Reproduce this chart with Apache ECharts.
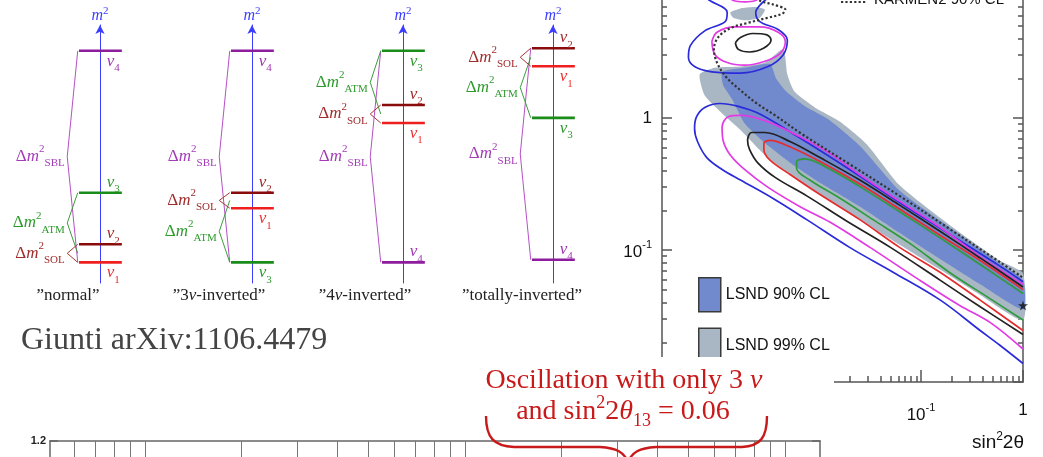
<!DOCTYPE html>
<html>
<head>
<meta charset="utf-8">
<title>Sterile neutrino schemes and LSND</title>
<script src="https://cdn.jsdelivr.net/npm/echarts@6.0.0/dist/echarts.min.js"></script>
<style>
  html, body { margin: 0; padding: 0; background: #fff; }
  #main { width: 1043px; height: 457px; }
</style>
</head>
<body>
<div id="main"></div>
<script>
// ---- 3+1 mass schemes, m^2 in arbitrary units (order: nu1, nu2, nu3, nu4)
const schemeNames = ['”normal”', '”3ν-inverted”', '”4ν-inverted”', '”totally-inverted”'];
const normalLevels = [8, 15, 35, 90];
const inverted3Levels = [29, 35, 8, 90];
const inverted4Levels = [62, 69, 90, 8];
const totallyInvertedLevels = [84, 91, 64, 9];
const bracketNames = ['SBL', 'ATM', 'SOL'];

// ---- LSND / KARMEN plot, points as [log10 sin^2(2theta), log10 dm^2]
const lsnd99 = [[-3.17,0.33],[-3.02,0.38],[-2.77,0.39],[-2.53,0.42],[-2.35,0.52],[-2.31,0.33],[-2.24,0.20],[-2.04,0.08],[-1.79,-0.03],[-1.53,-0.20],[-1.21,-0.51],[-0.72,-0.81],[-0.23,-1.08],[0,-1.18],[0,-1.53],[-0.42,-1.34],[-0.81,-1.15],[-1.21,-0.96],[-1.60,-0.77],[-1.99,-0.58],[-2.28,-0.43],[-2.53,-0.28],[-2.77,-0.09],[-2.97,0.05],[-3.12,0.17]];
const lsnd99Top = [[-2.87,0.80],[-2.77,0.83],[-2.63,0.84],[-2.53,0.82],[-2.58,0.76],[-2.73,0.74],[-2.84,0.76]];
const lsnd90 = [[-2.95,0.35],[-2.73,0.38],[-2.48,0.41],[-2.42,0.30],[-2.32,0.20],[-2.14,0.09],[-1.89,-0.02],[-1.60,-0.21],[-1.21,-0.55],[-0.72,-0.83],[-0.23,-1.10],[0,-1.23],[0,-1.45],[-0.42,-1.26],[-0.81,-1.07],[-1.21,-0.87],[-1.60,-0.67],[-1.99,-0.49],[-2.28,-0.34],[-2.53,-0.19],[-2.73,-0.04],[-2.85,0.14],[-2.94,0.25]];
const blueTop = [[-3.15,0.93],[-3.07,0.89],[-2.90,0.80],[-2.92,0.73],[-3.12,0.66],[-3.26,0.55],[-3.28,0.46],[-3.22,0.39],[-3.05,0.35],[-2.77,0.34],[-2.50,0.39],[-2.35,0.48],[-2.31,0.59],[-2.40,0.67],[-2.58,0.73],[-2.62,0.80],[-2.56,0.87],[-2.48,0.92]];
const blueLower = [[0,-1.24],[-0.23,-1.12],[-0.72,-0.88],[-1.21,-0.64],[-1.70,-0.39],[-2.19,-0.15],[-2.58,0.03],[-2.80,0.09],[-2.97,0.11],[-3.12,0.08],[-3.20,0.01],[-3.22,-0.08],[-3.19,-0.18],[-3.10,-0.30],[-2.95,-0.39],[-2.77,-0.47],[-2.45,-0.61],[-2.12,-0.77],[-1.70,-0.98],[-1.27,-1.17],[-0.81,-1.38],[-0.42,-1.61],[-0.23,-1.72],[0,-1.86]];
const magentaTop = [[-2.89,0.93],[-2.84,0.89],[-2.73,0.88],[-2.62,0.89],[-2.58,0.93]];
const magentaRing = [[-3.05,0.58],[-3.00,0.65],[-2.82,0.69],[-2.58,0.69],[-2.40,0.65],[-2.33,0.58],[-2.38,0.49],[-2.53,0.43],[-2.73,0.40],[-2.90,0.42],[-3.02,0.48],[-3.05,0.58]];
const magentaLower = [[0,-1.26],[-0.42,-1.05],[-0.81,-0.83],[-1.21,-0.63],[-1.60,-0.43],[-1.89,-0.27],[-2.19,-0.14],[-2.53,-0.02],[-2.77,0.02],[-2.89,0.01],[-2.95,-0.07],[-2.94,-0.17],[-2.87,-0.28],[-2.73,-0.39],[-2.51,-0.52],[-2.19,-0.67],[-1.89,-0.79],[-1.50,-0.98],[-1.01,-1.23],[-0.62,-1.42],[-0.32,-1.55],[0,-1.75]];
const blackRing = [[-2.82,0.57],[-2.77,0.61],[-2.65,0.64],[-2.51,0.63],[-2.47,0.59],[-2.54,0.53],[-2.68,0.50],[-2.79,0.52],[-2.82,0.57]];
const blackLoop = [[0,-1.28],[-0.42,-1.06],[-0.81,-0.86],[-1.21,-0.66],[-1.60,-0.47],[-1.99,-0.30],[-2.28,-0.18],[-2.53,-0.11],[-2.66,-0.11],[-2.70,-0.17],[-2.68,-0.24],[-2.60,-0.34],[-2.43,-0.45],[-2.12,-0.59],[-1.73,-0.78],[-1.30,-0.98],[-0.81,-1.23],[-0.42,-1.43],[0,-1.64]];
const redLoop = [[0,-1.30],[-0.42,-1.08],[-0.81,-0.89],[-1.21,-0.69],[-1.60,-0.50],[-1.99,-0.33],[-2.28,-0.22],[-2.48,-0.17],[-2.54,-0.19],[-2.54,-0.24],[-2.48,-0.32],[-2.28,-0.43],[-1.99,-0.58],[-1.60,-0.77],[-1.21,-0.98],[-0.81,-1.17],[-0.42,-1.38],[0,-1.61]];
const greenLoop = [[0,-1.33],[-0.42,-1.11],[-0.81,-0.91],[-1.21,-0.71],[-1.60,-0.52],[-1.89,-0.39],[-2.14,-0.31],[-2.22,-0.33],[-2.22,-0.38],[-2.09,-0.47],[-1.79,-0.61],[-1.47,-0.77],[-1.11,-0.95],[-0.72,-1.17],[-0.32,-1.37],[0,-1.53]];
const karmen = [[-2.63,0.95],[-2.58,0.89],[-2.45,0.86],[-2.33,0.82],[-2.36,0.79],[-2.50,0.76],[-2.70,0.72],[-2.87,0.68],[-2.99,0.61],[-3.03,0.52],[-3.00,0.42],[-2.91,0.31],[-2.77,0.21],[-2.61,0.11],[-2.43,0.02],[-2.19,-0.11],[-1.70,-0.35],[-1.21,-0.59],[-0.72,-0.84],[-0.23,-1.09],[0,-1.21]];
const bestFit = [1, 0.038];

// ---- tick values
const minorSteps = [2, 3, 4, 5, 6, 7, 8, 9];
const lsndXDecades = [1e-4, 1e-3, 1e-2, 1e-1, 1];
const lsndYDecades = [0.01, 0.1, 1, 10, 100];
const bottomXDecades = [1, 10, 100, 1000];

const serif = '"Liberation Serif", "DejaVu Serif", serif';
const sans = '"Liberation Sans", Arial, sans-serif';

const nuColors = ['#f01f1f', '#8a0b0b', '#1a8c1a', '#8e1d9e'];
const nuTextColors = ['#ee3030', '#a32a2a', '#2f9a2f', '#a234b4'];
const bracketColors = ['#b550c6', '#3c9e3c', '#a53636'];
const bracketTextColors = ['#a43cb8', '#2e9a2e', '#a02c2c'];
const labelSides = [
    ['below', 'above', 'above', 'below'],
    ['below', 'above', 'below', 'below'],
    ['below', 'above', 'below', 'above'],
    ['below', 'above', 'below', 'above']
];
const diagramCenters = [100, 252, 403, 553];
const diagramTitleX = [68, 219, 365, 522];

function mathRich(color, size) {
    const small = Math.round(size * 0.66);
    const base = { fill: color, color: color, fontFamily: serif };
    return {
        r: Object.assign({}, base, { fontSize: size, lineHeight: size + 8, verticalAlign: 'middle' }),
        i: Object.assign({}, base, { fontSize: size, fontStyle: 'italic', lineHeight: size + 8, verticalAlign: 'middle' }),
        p: Object.assign({}, base, { fontSize: small, lineHeight: small + 2, verticalAlign: 'top' }),
        b: Object.assign({}, base, { fontSize: small, lineHeight: small + 2, verticalAlign: 'bottom' })
    };
}

function ticksFrom(decades, min, max) {
    const out = [];
    decades.forEach((d) => {
        minorSteps.forEach((s) => {
            const v = d * s;
            if (v > min * 1.05 && v < max * 0.97) out.push(v);
        });
    });
    return out;
}

function levelSeries(idx, levels, sides) {
    return {
        type: 'custom', xAxisIndex: idx, yAxisIndex: idx, silent: true, z: 3,
        data: levels.map((v, k) => [0, v, k]),
        renderItem: function (params, api) {
            const y = api.value(1);
            const k = api.value(2);
            const a = api.coord([-0.5, y]);
            const b = api.coord([0.52, y]);
            const t = api.coord([0.16, y]);
            const below = sides[k] === 'below';
            return {
                type: 'group',
                children: [
                    { type: 'line', shape: { x1: a[0], y1: a[1], x2: b[0], y2: b[1] }, style: { stroke: nuColors[k], lineWidth: 2.6 } },
                    {
                        type: 'text', x: t[0], y: below ? t[1] - 2 : t[1] + 2,
                        style: {
                            text: '{i|ν}{b|' + (k + 1) + '}', rich: mathRich(nuTextColors[k], 17),
                            align: 'left', verticalAlign: below ? 'top' : 'bottom'
                        }
                    }
                ]
            };
        }
    };
}

function bracketSeries(idx, levels) {
    const top = Math.max(...levels);
    const bottom = Math.min(...levels);
    const solMid = (levels[0] + levels[1]) / 2;
    return {
        type: 'custom', xAxisIndex: idx, yAxisIndex: idx, silent: true, z: 2,
        data: [[top, bottom, 0], [levels[2], solMid, 1], [levels[0], levels[1], 2]],
        renderItem: function (params, api) {
            const y1 = api.value(0);
            const y2 = api.value(1);
            const kind = api.value(2);
            const mid = (y1 + y2) / 2;
            const a = api.coord([-0.53, y1]);
            const b = api.coord([-0.78, mid]);
            const c = api.coord([-0.53, y2]);
            const t = api.coord([-0.84, mid]);
            return {
                type: 'group',
                children: [
                    { type: 'polyline', shape: { points: [a, b, c] }, style: { stroke: bracketColors[kind], lineWidth: 1, fill: 'none' } },
                    {
                        type: 'text', x: t[0], y: t[1],
                        style: {
                            text: '{r|Δ}{i|m}{p|2}{b|' + bracketNames[kind] + '}',
                            rich: mathRich(bracketTextColors[kind], 17), align: 'right', verticalAlign: 'middle'
                        }
                    }
                ]
            };
        }
    };
}

const toData = (arr) => arr.map((p) => [Math.pow(10, p[0]), Math.pow(10, p[1])]);

function regionSeries(name, pts, fill) {
    const data = toData(pts);
    return {
        type: 'custom', name: name, xAxisIndex: 4, yAxisIndex: 4, silent: true, z: 2,
        itemStyle: { color: fill }, data: data,
        renderItem: function (params, api) {
            if (params.dataIndexInside !== 0) return;
            return {
                type: 'polygon',
                shape: { points: data.map((d) => api.coord(d)), smooth: 0.2 },
                style: { fill: fill, stroke: 'none' }
            };
        }
    };
}

function contourSeries(pts, color) {
    return {
        type: 'line', xAxisIndex: 4, yAxisIndex: 4, data: toData(pts), symbol: 'none',
        smooth: 0.35, silent: true, z: 3, lineStyle: { color: color, width: 1.7 }
    };
}

const schemeLevels = [normalLevels, inverted3Levels, inverted4Levels, totallyInvertedLevels];

const lsndXMin = 0.000289;
const bottomXMin = 5.05;
const bottomXMax = 1286;

const frame = { color: '#555', width: 1.5 };
const decadeLabel = function (v) {
    if (Math.abs(v - 1) < 1e-9) return '1';
    if (Math.abs(v - 10) < 1e-6) return '10';
    return '{b|10}{s|' + Math.round(Math.log10(v)) + '}';
};
const decadeRich = {
    b: { fontSize: 17, fontFamily: sans, color: '#111', lineHeight: 22, verticalAlign: 'bottom' },
    s: { fontSize: 11, fontFamily: sans, color: '#111', lineHeight: 12, verticalAlign: 'top' }
};

const noBounds = { outerBoundsMode: 'none', containLabel: false };
const grids = diagramCenters.map((c) => Object.assign({ left: c - 42, width: 84, top: 25, height: 258 }, noBounds));
grids.push(Object.assign({ left: 662, width: 361, top: -146, height: 528 }, noBounds));
grids.push(Object.assign({ left: 50, width: 770, top: 441, height: 300 }, noBounds));

const xAxes = diagramCenters.map((c, i) => ({ gridIndex: i, type: 'value', min: -1, max: 1, show: false }));
const yAxes = diagramCenters.map((c, i) => ({
    gridIndex: i, type: 'value', min: 0, max: 100,
    axisLine: { show: true, onZero: true, symbol: ['none', 'arrow'], symbolSize: [7, 9], lineStyle: { color: '#3d3dff', width: 1 } },
    axisTick: { show: false }, axisLabel: { show: false }, splitLine: { show: false },
    name: '{i|m}{p|2}', nameLocation: 'end', nameGap: 1,
    nameTextStyle: {
        rich: {
            i: { color: '#3d3dff', fontFamily: serif, fontStyle: 'italic', fontSize: 16, lineHeight: 18, verticalAlign: 'bottom' },
            p: { color: '#3d3dff', fontFamily: serif, fontSize: 11, lineHeight: 18, verticalAlign: 'top' }
        }
    }
}));

// LSND plot axes (major + minor ticks on each side)
xAxes.push({
    gridIndex: 4, type: 'log', min: lsndXMin, max: 1, position: 'bottom',
    axisLine: { show: true, onZero: false, lineStyle: frame },
    axisTick: { show: true, inside: true, length: 12, customValues: lsndXDecades.slice(1), lineStyle: frame },
    axisLabel: { show: true, customValues: [0.1, 1], formatter: decadeLabel, rich: decadeRich, margin: 20, color: '#111', fontFamily: sans, fontSize: 17 },
    splitLine: { show: false }
});
xAxes.push({
    gridIndex: 4, type: 'log', min: lsndXMin, max: 1, position: 'bottom',
    axisLine: { show: false },
    axisTick: { show: true, inside: true, length: 6, customValues: ticksFrom(lsndXDecades, lsndXMin, 1), lineStyle: frame },
    axisLabel: { show: false }, splitLine: { show: false }
});
['left', 'right'].forEach((side) => {
    yAxes.push({
        gridIndex: 4, type: 'log', min: 0.01, max: 100, position: side,
        axisLine: { show: true, onZero: false, lineStyle: frame },
        axisTick: { show: true, inside: true, length: 10, customValues: lsndYDecades, lineStyle: frame },
        axisLabel: side === 'left'
            ? { show: true, customValues: [0.1, 1, 10], formatter: decadeLabel, rich: decadeRich, margin: 10, color: '#111', fontFamily: sans, fontSize: 17 }
            : { show: false },
        splitLine: { show: false }
    });
    yAxes.push({
        gridIndex: 4, type: 'log', min: 0.01, max: 100, position: side,
        axisLine: { show: false },
        axisTick: { show: true, inside: true, length: 5, customValues: ticksFrom(lsndYDecades, 0.01, 100), lineStyle: frame },
        axisLabel: { show: false }, splitLine: { show: false }
    });
});

// lower chart (only its top edge is in view)
const bottomFrame = { color: '#666', width: 1.5 };
xAxes.push({
    gridIndex: 5, type: 'log', min: bottomXMin, max: bottomXMax, position: 'top', z: 10,
    axisLine: { show: true, onZero: false, lineStyle: bottomFrame },
    axisTick: { show: true, inside: true, length: 22, customValues: bottomXDecades.slice(1), lineStyle: { color: '#777', width: 1 } },
    axisLabel: { show: false }, splitLine: { show: false }
});
xAxes.push({
    gridIndex: 5, type: 'log', min: bottomXMin, max: bottomXMax, position: 'top', z: 10,
    axisLine: { show: false },
    axisTick: { show: true, inside: true, length: 18, customValues: ticksFrom(bottomXDecades, bottomXMin, bottomXMax), lineStyle: { color: '#777', width: 1 } },
    axisLabel: { show: false }, splitLine: { show: false }
});
yAxes.push({
    gridIndex: 5, type: 'value', min: 0.7, max: 1.2, interval: 0.1, position: 'left', z: 10,
    axisLine: { show: true, onZero: false, lineStyle: bottomFrame },
    axisTick: { show: true, inside: true, length: 8, lineStyle: bottomFrame },
    axisLabel: { show: true, margin: 4, fontSize: 11, fontWeight: 'bold', fontFamily: sans, color: '#222', formatter: (v) => v.toFixed(1) },
    splitLine: { show: false }
});
yAxes.push({
    gridIndex: 5, type: 'value', min: 0.7, max: 1.2, interval: 0.1, position: 'right', z: 10,
    axisLine: { show: true, onZero: false, lineStyle: bottomFrame },
    axisTick: { show: true, inside: true, length: 8, lineStyle: bottomFrame },
    axisLabel: { show: false }, splitLine: { show: false }
});

const series = [];
schemeLevels.forEach((lv, i) => {
    series.push(bracketSeries(i, lv));
    series.push(levelSeries(i, lv, labelSides[i]));
});
series.push(regionSeries('LSND 99% CL', lsnd99, '#a9b7c4'));
series.push(regionSeries('lsnd99top', lsnd99Top, '#a9b7c4'));
series.push(regionSeries('LSND 90% CL', lsnd90, '#7189cd'));
series.push(contourSeries(blueTop, '#2b2bd9'));
series.push(contourSeries(blueLower, '#2b2bd9'));
series.push(contourSeries(magentaTop, '#e33be3'));
series.push(contourSeries(magentaRing, '#e33be3'));
series.push(contourSeries(magentaLower, '#e33be3'));
series.push(contourSeries(blackRing, '#222'));
series.push(contourSeries(blackLoop, '#222'));
series.push(contourSeries(redLoop, '#e52d2d'));
series.push(contourSeries(greenLoop, '#2f9b3c'));
series.push({
    type: 'line', name: 'KARMEN2 90% CL', xAxisIndex: 4, yAxisIndex: 4, data: toData(karmen),
    symbol: 'none', smooth: 0.35, silent: true, z: 4,
    lineStyle: { color: '#333', width: 2.2, type: 'dotted' }, itemStyle: { color: '#333' }
});
series.push({
    type: 'scatter', xAxisIndex: 4, yAxisIndex: 4, data: [bestFit], clip: false, silent: true, z: 5,
    symbol: 'path://M50,0 L61,35 L98,35 L68,57 L79,91 L50,70 L21,91 L32,57 L2,35 L39,35 Z',
    symbolSize: 10, itemStyle: { color: '#111' }
});

const mathLabel = (s) => '{r|' + s.split('ν').join('}{i|ν}{r|') + '}';

const red = '#c81a1a';
const graphics = [
    { type: 'rect', z: 5, shape: { x: 0, y: 357, width: 834, height: 100 }, style: { fill: '#fff' } }
];
schemeNames.forEach((name, i) => {
    graphics.push({
        type: 'text', z: 20, x: diagramTitleX[i], y: 296,
        style: { text: mathLabel(name), rich: mathRich('#222', 17), align: 'center', verticalAlign: 'middle' }
    });
});
graphics.push({
    type: 'text', z: 20, x: 21, y: 341,
    style: { text: 'Giunti arXiv:1106.4479', fill: '#444', font: '32px ' + serif, align: 'left', verticalAlign: 'middle' }
});
graphics.push({
    type: 'text', z: 20, x: 624, y: 381,
    style: { text: '{r|Oscillation with only 3 }{i|ν}', rich: mathRich(red, 28), align: 'center', verticalAlign: 'middle' }
});
graphics.push({
    type: 'text', z: 20, x: 623, y: 412,
    style: { text: '{r|and sin}{p|2}{r|2}{i|θ}{b|13}{r| = 0.06}', rich: mathRich(red, 28), align: 'center', verticalAlign: 'middle' }
});
// curly brace under the red note
const braceStyle = { stroke: red, lineWidth: 2.4, fill: 'none' };
graphics.push({ type: 'bezierCurve', z: 20, shape: { x1: 486, y1: 416, cpx1: 486, cpy1: 438, cpx2: 494, cpy2: 446, x2: 514, y2: 447 }, style: braceStyle });
graphics.push({ type: 'line', z: 20, shape: { x1: 514, y1: 447, x2: 600, y2: 447 }, style: braceStyle });
graphics.push({ type: 'bezierCurve', z: 20, shape: { x1: 600, y1: 447, cpx1: 616, cpy1: 448, cpx2: 625, cpy2: 452, x2: 628, y2: 463 }, style: braceStyle });
graphics.push({ type: 'bezierCurve', z: 20, shape: { x1: 628, y1: 463, cpx1: 631, cpy1: 452, cpx2: 640, cpy2: 448, x2: 656, y2: 447 }, style: braceStyle });
graphics.push({ type: 'line', z: 20, shape: { x1: 656, y1: 447, x2: 742, y2: 447 }, style: braceStyle });
graphics.push({ type: 'bezierCurve', z: 20, shape: { x1: 742, y1: 447, cpx1: 760, cpy1: 446, cpx2: 767, cpy2: 438, x2: 767, y2: 416 }, style: braceStyle });
graphics.push({
    type: 'text', z: 20, x: 1024, y: 443,
    style: {
        text: '{a|sin}{s|2}{a|2θ}',
        rich: {
            a: { fill: '#111', fontFamily: sans, fontSize: 19, lineHeight: 24, verticalAlign: 'middle' },
            s: { fill: '#111', fontFamily: sans, fontSize: 12, lineHeight: 13, verticalAlign: 'top' }
        },
        align: 'right', verticalAlign: 'middle'
    }
});
// KARMEN2 key, cut by the top edge of the slide
graphics.push({ type: 'line', z: 20, shape: { x1: 841, y1: 2, x2: 867, y2: 2 }, style: { stroke: '#333', lineWidth: 2.2, lineDash: [2.2, 2.2] } });
graphics.push({
    type: 'text', z: 20, x: 874, y: 0,
    style: { text: 'KARMEN2 90% CL', fill: '#111', font: '15px ' + sans, align: 'left', verticalAlign: 'middle' }
});

const option = {
    animation: false,
    backgroundColor: '#fff',
    grid: grids,
    xAxis: xAxes,
    yAxis: yAxes,
    legend: {
        data: [{ name: 'LSND 90% CL', icon: 'rect' }, { name: 'LSND 99% CL', icon: 'rect' }],
        orient: 'vertical', left: 693, top: 272, itemWidth: 22, itemHeight: 34, itemGap: 15,
        selectedMode: false, itemStyle: { borderColor: '#3a3a3a', borderWidth: 1.5 },
        textStyle: { fontFamily: sans, fontSize: 16, color: '#111' }
    },
    graphic: { elements: graphics },
    series: series
};

const chart = echarts.init(document.getElementById('main'));
chart.setOption(option);
</script>
</body>
</html>
